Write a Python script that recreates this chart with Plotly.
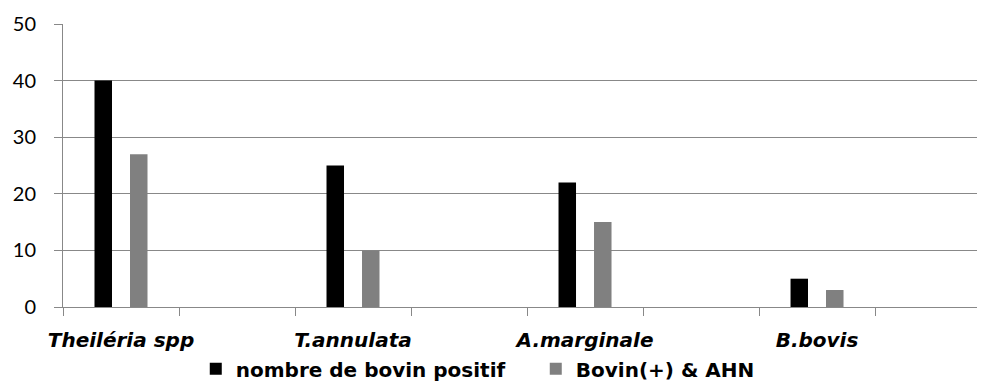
import plotly.graph_objects as go

categories = ["Theiléria spp", "T.annulata", "A.marginale", "B.bovis"]
series_names = ["nombre de bovin positif", "Bovin(+) & AHN"]
positifs = [40, 25, 22, 5]
ahn = [27, 10, 15, 3]
y_ticks = [0, 10, 20, 30, 40, 50]

# Axis has an empty slot after every labelled category
slots = []
for i, c in enumerate(categories):
    slots.append(c)
    slots.append(" " * (i + 1))

def expand(vals):
    out = []
    for v in vals:
        out.extend([v, None])
    return out

colors = ["#000000", "#808080"]
fig = go.Figure()
for name, vals, col in zip(series_names, [positifs, ahn], colors):
    fig.add_trace(go.Bar(x=slots, y=expand(vals), name=name,
                         marker=dict(color=col, line=dict(width=0))))

grid = "#888888"
fig.update_layout(
    width=977, height=375,
    margin=dict(l=55, r=0, t=16, b=76.3, autoexpand=False),
    paper_bgcolor="white", plot_bgcolor="white",
    barmode="group", bargap=0.388, bargroupgap=0.507,
    showlegend=True,
    legend=dict(orientation="h", x=0.144, xanchor="left", y=-0.287, yanchor="bottom",
                font=dict(family="DejaVu Sans", size=20, color="black", weight="bold"),
                bgcolor="rgba(0,0,0,0)", entrywidth=295, entrywidthmode="pixels",
                traceorder="normal", itemclick=False),
    xaxis=dict(type="category", categoryorder="array", categoryarray=slots,
               range=[-0.5, 7.448], tickson="boundaries", ticks="outside", ticklen=8,
               tickcolor=grid, tickwidth=1, showline=True, linecolor=grid, linewidth=1,
               showgrid=False, ticklabelstandoff=15, tickangle=0, automargin=False,
               tickfont=dict(family="DejaVu Sans", size=20, color="black", weight="bold", style="italic")),
    yaxis=dict(range=[0, 50], tickvals=y_ticks, ticks="outside", ticklen=8, tickcolor=grid,
               tickwidth=1, showline=True, linecolor=grid, linewidth=1, automargin=False,
               showgrid=True, gridcolor=grid, gridwidth=1, zeroline=False,
               ticklabelstandoff=14,
               tickfont=dict(family="Lato", size=20, color="black")),
)
fig.write_html("out.html")
